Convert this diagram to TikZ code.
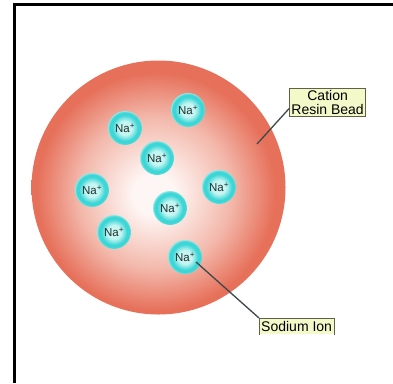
\documentclass[tikz,border=0pt]{standalone}
\usepackage{fontspec}
\setmainfont{Liberation Sans}
\usetikzlibrary{positioning}

\definecolor{beadred}{HTML}{E6705A}
\definecolor{beadpink}{HTML}{F3B8AB}
\definecolor{beadwhite}{HTML}{FEF6F4}
\definecolor{ioncyan}{HTML}{3CD6D6}
\definecolor{ionlight}{HTML}{C6F5F2}
\definecolor{ionhalo}{HTML}{8FE6E4}
\definecolor{iontext}{HTML}{1F3030}
\definecolor{tagfill}{HTML}{F3F9C8}
\definecolor{tagdraw}{HTML}{5E6048}
\definecolor{leadgray}{HTML}{3E4A4C}

% the path's box takes the middle 50bp of a shading
\pgfdeclareradialshading{beadshade}{\pgfpoint{-1bp}{-1.5bp}}{%
  color(0bp)=(beadwhite); color(4bp)=(beadwhite);
  color(15bp)=(beadpink); color(23.5bp)=(beadred); color(50bp)=(beadred)}
\pgfdeclareradialshading{ionshade}{\pgfpoint{0bp}{0bp}}{%
  color(0bp)=(ionlight); color(10bp)=(ionlight);
  color(19bp)=(ioncyan); color(23bp)=(ioncyan); color(25bp)=(ionhalo);
  color(50bp)=(ionhalo)}

\begin{document}
\begin{tikzpicture}[
  x=1pt, y=-1pt,
  bead/.style={circle, minimum size=254pt, inner sep=0pt, shading=beadshade},
  ion/.style={circle, minimum size=34pt, inner sep=0pt, shading=ionshade,
    text=iontext, font=\fontsize{11.5}{12}\selectfont},
  tag/.style={rectangle, fill=tagfill, inner xsep=2pt, inner ysep=2pt,
    align=center, font=\fontsize{14}{14}\selectfont},
  leader/.style={draw=leadgray, line width=1.3pt}
]
  \useasboundingbox (0,0) rectangle (393,383);

  % frame (cut off at right and bottom)
  \draw[line width=2.5pt] (14.5,383) -- (14.5,4.3) -- (393,4.3);

  % resin bead with its sodium ions
  \node[bead] (bead) at (158.5,187.5) {};
  \foreach \n/\x/\y in {1/188/110, 2/125/128, 3/157/158, 4/92/190,
                        5/219/187, 6/170/208, 7/114/232, 8/185/257}
    \node[ion] (na\n) at (\x,\y) {Na\textsuperscript{+}};

  % labels
  \node[tag, draw=tagdraw, line width=0.8pt, anchor=north west]
    (beadtag) at (289,88) {Cation\\Resin Bead};
  \node[tag, inner ysep=3pt, anchor=north west] (iontag) at (259,318) {Sodium Ion};
  \draw[tagdraw, line width=0.8pt] (iontag.south west) -- (iontag.north west)
    -- (iontag.north east) -- (iontag.south east);

  % leader lines
  \coordinate (beadpt) at (257,144);
  \coordinate (ionpt) at ([shift={(11,5)}]na8.center);
  \draw[leader] (beadtag.189) -- (beadpt);
  \draw[leader] (ionpt) -- (iontag.north west);
\end{tikzpicture}
\end{document}
